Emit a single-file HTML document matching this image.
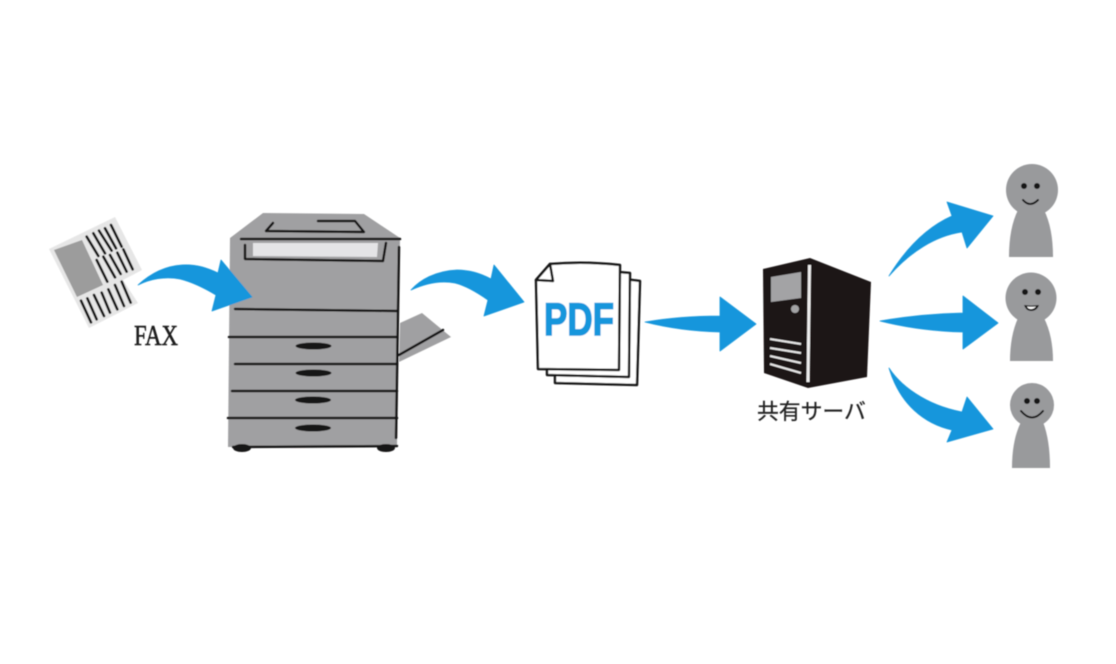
<!DOCTYPE html>
<html lang="ja"><head><meta charset="utf-8"><title>FAX PDF</title>
<style>html,body{margin:0;padding:0;background:#fff}svg{display:block}</style></head>
<body>
<svg width="1116" height="664" viewBox="0 0 1116 664" xmlns="http://www.w3.org/2000/svg">
<defs><filter id="b" x="-5%" y="-5%" width="110%" height="110%"><feGaussianBlur stdDeviation="0.6"/></filter></defs>
<rect width="1116" height="664" fill="#fff"/>
<g filter="url(#b)">
<!-- fax paper -->
<polygon points="49,249 115,217 142,270 123,280 138,303 89,328" fill="#e6e6e6"/>
<polygon points="54,250 82,240 103,285 77,297" fill="#9c9c9c"/>
<g transform="translate(30,190) scale(.3333)" stroke="#151515" stroke-width="8" stroke-linecap="round">
<path d="M170 140L205 198M190 130L225 190M207 122L245 182M225 115L258 175M243 105L275 170"/>
<path d="M200 210L232 275M220 200L255 262M240 195L272 252M262 188L290 245M280 178L308 238"/>
<path d="M153 332L183 397M172 325L200 388M192 315L222 378M215 308L240 368M235 298L262 358M255 285L282 348M275 275L302 338"/>
</g>
<text x="134" y="345" font-family="'Liberation Serif',serif" font-size="29" textLength="44" lengthAdjust="spacingAndGlyphs" fill="#1a1a1a" stroke="#1a1a1a" stroke-width=".5">FAX</text>
<!-- printer -->
<polygon points="400,323 422,313 451,337 399,362" fill="#a0a0a2"/>
<polygon points="263,213 364,214 400,238 397,447 228,447 230,238" fill="#a0a0a2"/>
<polygon points="253,243 378,243 377,257 253,256" fill="#e4e4e6"/>
<g stroke="#191516" fill="none" stroke-width="2.500" stroke-linecap="round" stroke-linejoin="round">
<path d="M241 239L400 239"/>
<path d="M245 245L245 259L383 261L386 243"/>
<path d="M273 223L266 231L364 232L355 221L318 221"/>
<path d="M399 247L396 438"/>
<path d="M235 309L397 311M229 337L397 337M235 364L397 364M232 391L397 391M228 418L397 418M233 447L397 446"/>
<path d="M399 355L443 330"/>
</g>
<g fill="#191516">
<ellipse cx="313.500" cy="346" rx="18" ry="3.500"/><ellipse cx="313.500" cy="373" rx="18" ry="3.500"/><ellipse cx="313" cy="400" rx="18" ry="3.500"/><ellipse cx="313" cy="428" rx="18" ry="3.500"/>
<ellipse cx="242" cy="448" rx="9" ry="4"/><ellipse cx="386" cy="448" rx="9" ry="4"/>
</g>
<!-- pdf pages -->
<g fill="#fff" stroke="#151515" stroke-width="2.500" stroke-linejoin="round">
<path d="M600 278Q620 278 640 281L637 385L555 383L555 300Z"/>
<path d="M590 271Q610 271 630 273L629 377L547 375L547 290Z"/>
<path d="M550 264Q585 261 620 265L619 370L538 369L536 280Z"/>
<path d="M550 264L536 280L553 281Z"/>
</g>
<text x="544" y="335" font-family="'Liberation Sans',sans-serif" font-weight="bold" font-size="45" textLength="70" lengthAdjust="spacingAndGlyphs" fill="#1496dc" stroke="#1496dc" stroke-width="1.500">PDF</text>
<!-- server -->
<polygon points="763,269 810,258 871,282 867,377 808,388 764,373" fill="#1f1717"/>
<polygon points="771,277 801,272 801,298 771,302" fill="#a3a3a5"/>
<path d="M809.500 265L808 382" stroke="#eee" stroke-width="3" fill="none"/>
<circle cx="795" cy="309" r="4" fill="#a3a3a5"/>
<path d="M770 339L801 344M770 348L801 353M770 356L801 363M770 364L801 373" stroke="#e8e8e8" stroke-width="2" fill="none"/>
<text x="757" y="419" font-family="'Liberation Sans','Noto Sans CJK JP',sans-serif" font-size="21.800" fill="#222" stroke="#222" stroke-width=".25">共有サーバ</text>
<!-- arrows -->
<g fill="#1496dc" stroke="#1496dc" stroke-width=".8" stroke-linejoin="round">
<path d="M138 285C150 274 165 266 182 265C196 264 208 268 218 273L221 260L252 297L212 311L216 295C206 289 192 282 180 279C165 276 150 279 138 285Z"/>
<path d="M411 290C420 280 435 271 457 270C470 270 482 274 491 279L494 265L524 302L484 316L488 300C478 293 467 286 455 283C440 280 424 284 411 290Z"/>
<path d="M645 322Q680 316 720 316L720 297L756 324L720 351L720 332Q680 331 645 322Z"/>
<path d="M889 276C905 250 925 228 952 216L947 202L993 216L967 248L962 232C935 236 910 252 889 276Z"/>
<path d="M880 321Q920 314 963 313L963 296L998 323L963 349L963 332Q920 331 880 321Z"/>
<path d="M889 368C900 385 925 405 962 412L967 397L993 429L947 442L952 430C925 424 900 405 889 368Z"/>
</g>
<!-- people -->
<g fill="#999a9c">
<circle cx="1032" cy="190" r="26"/><path d="M1018 210Q1009 228 1009 257L1053 257Q1053 228 1044 210Z"/>
<circle cx="1031" cy="298" r="25.500"/><path d="M1018 318Q1010 336 1010 361L1053 361Q1053 336 1044 318Z"/>
<circle cx="1032" cy="405" r="22"/><path d="M1021 422Q1012 440 1012 468L1050 468Q1050 440 1043 422Z"/>
</g>
<g fill="#151515">
<circle cx="1024" cy="186" r="3"/><circle cx="1037" cy="186" r="3"/>
<circle cx="1025" cy="292" r="3"/><circle cx="1038" cy="292" r="3"/>
<circle cx="1027" cy="401" r="3"/><circle cx="1037" cy="401" r="3"/>
<path d="M1024 305Q1031 306 1039 305Q1037 311 1031 311Q1026 311 1024 305Z"/>
</g>
<path d="M1027 306.500Q1031 307 1036 306.500Q1034 309 1031 309Q1028 309 1027 306.500Z" fill="#fff"/>
<path d="M1023 200Q1030 208 1038 200M1021 411Q1032 424 1043 411" fill="none" stroke="#151515" stroke-width="2" stroke-linecap="round"/>
</g>
</svg>
</body></html>
